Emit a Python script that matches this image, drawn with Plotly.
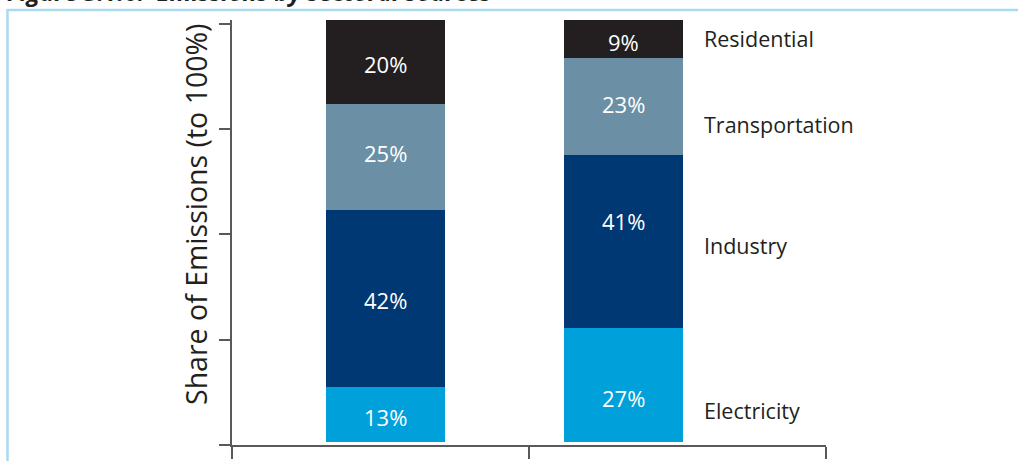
import numpy as np
import plotly.graph_objects as go

# --- data ---
groups = ["Bar 1", "Bar 2"]
sectors = ["Electricity", "Industry", "Transportation", "Residential"]
electricity = [13, 27]
industry = [42, 41]
transportation = [25, 23]
residential = [20, 9]

colors = ["#00a1db", "#003873", "#6b8fa4", "#231f20"]
series = [electricity, industry, transportation, residential]

# --- layout geometry (pixels in 1018x461 window) ---
W, H = 1018, 461
L, R, T, B = 232, 826, 20, 445


def px_x(px):
    return (px - L) / (R - L)


def px_y(py):
    return (B - py) / (B - T)


FONT = "Open Sans"
TEXT_DARK = "#231f20"
AXIS_COLOR = "#58595b"

# bar offsets within category slots (bars are not centred in the original)
bar_offset = [-0.1835, -0.382]
bar_width = 0.402

# vertical nudges (px) for value labels and side labels
value_shift = [[-2, -1, 4, -2], [-13, 21, 3, -3]]
side_shift = [-25, -4, -18, 0]

fig = go.Figure()

for name, vals, col in zip(sectors, series, colors):
    fig.add_trace(go.Bar(
        x=groups,
        y=vals,
        name=name,
        marker=dict(color=col, line=dict(width=0)),
        offset=bar_offset,
        width=bar_width,
        hoverinfo='skip',
        showlegend=False,
    ))

annotations = []

# value labels inside bars
for gi, g in enumerate(groups):
    base = 0
    for si, vals in enumerate(series):
        v = vals[gi]
        mid = base + v / 2
        base += v
        annotations.append(dict(
            x=gi + bar_offset[gi] + bar_width / 2,
            y=mid,
            xref='x', yref='y',
            text=f"{v}%",
            showarrow=False,
            font=dict(family=FONT, size=22, color='white'),
            xanchor='center', yanchor='middle',
            yshift=value_shift[gi][si],
        ))

# sector labels to the right of the second bar
base = 0
for si, (name, vals) in enumerate(zip(sectors, series)):
    v = vals[1]
    mid = base + v / 2
    base += v
    annotations.append(dict(
        x=px_x(702), y=mid,
        xref='paper', yref='y',
        text=name,
        showarrow=False,
        font=dict(family=FONT, size=21.5, color=TEXT_DARK),
        xanchor='left', yanchor='middle',
        yshift=side_shift[si],
    ))

# y axis title
annotations.append(dict(
    x=px_x(196), y=px_y(215),
    xref='paper', yref='paper',
    text="Share of Emissions (to 100%)",
    textangle=-90,
    showarrow=False,
    font=dict(family=FONT, size=28.5, color=TEXT_DARK),
    xanchor='center', yanchor='middle',
))

# figure title, cropped at the top edge
annotations.append(dict(
    x=px_x(5), y=px_y(10),
    xref='paper', yref='paper',
    text="<b><i>Figure 3.1.6:  Emissions by sectoral sources</i></b>",
    showarrow=False,
    font=dict(family=FONT, size=24, color=TEXT_DARK),
    xanchor='left', yanchor='bottom',
))

# light blue frame
frame_color = "#a9daf0"
shapes = [
    dict(type='line', xref='paper', yref='paper',
         x0=px_x(7), x1=px_x(W + 5), y0=px_y(10), y1=px_y(10),
         line=dict(color=frame_color, width=2.5)),
    dict(type='line', xref='paper', yref='paper',
         x0=px_x(7.5), x1=px_x(7.5), y0=px_y(9), y1=px_y(H + 5),
         line=dict(color=frame_color, width=2.5)),
]

y_ticks = list(np.linspace(-0.7, 99.06, 5))

fig.update_layout(
    width=W,
    height=H,
    barmode='stack',
    paper_bgcolor='white',
    plot_bgcolor='white',
    margin=dict(l=L, r=W - R, t=T, b=H - B, pad=0),
    annotations=annotations,
    shapes=shapes,
    xaxis=dict(
        type='category',
        range=[-0.5, 1.5],
        tickson='boundaries',
        ticks='outside',
        ticklen=12,
        tickwidth=1.5,
        tickcolor=AXIS_COLOR,
        showline=True,
        linecolor=AXIS_COLOR,
        linewidth=1.5,
        showticklabels=False,
        showgrid=False,
        zeroline=False,
        automargin=False,
    ),
    yaxis=dict(
        range=[-0.7, 100],
        tickvals=y_ticks,
        ticks='outside',
        ticklen=11,
        tickwidth=1.5,
        tickcolor=AXIS_COLOR,
        showline=True,
        linecolor=AXIS_COLOR,
        linewidth=1.5,
        showticklabels=False,
        showgrid=False,
        zeroline=False,
        automargin=False,
    ),
    showlegend=False,
)

# drop the default page margin so the figure sits at the window's corner
fig.write_html(
    "out.html",
    config={'displayModeBar': False},
    post_script="document.body.style.margin='0px';",
)
